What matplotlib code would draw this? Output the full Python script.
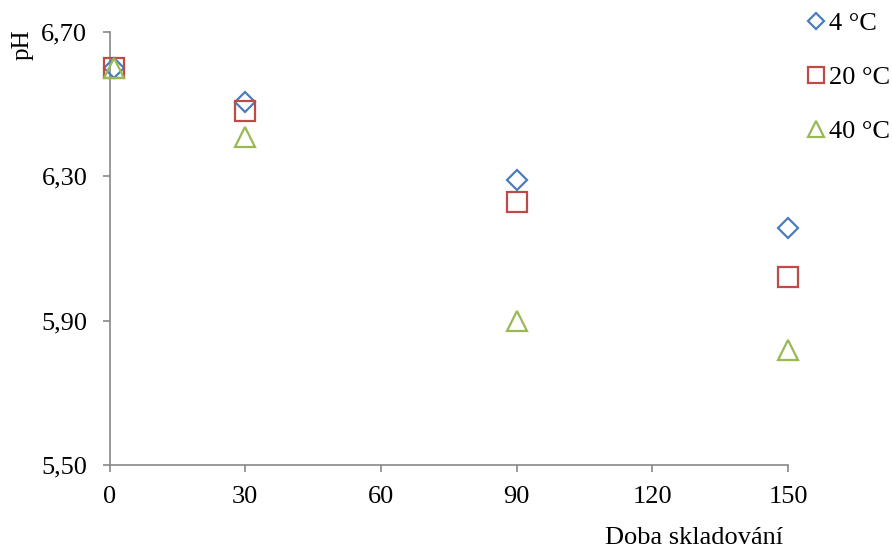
import matplotlib
matplotlib.use("Agg")
import matplotlib.pyplot as plt
from matplotlib.ticker import FuncFormatter

days = [1, 30, 90, 150]
ph_4 = [6.60, 6.505, 6.29, 6.158]
ph_20 = [6.60, 6.48, 6.23, 6.02]
ph_40 = [6.60, 6.41, 5.90, 5.82]
labels = ["4 °C", "20 °C", "40 °C"]
x_ticks = [0, 30, 60, 90, 120, 150]
y_ticks = [5.50, 5.90, 6.30, 6.70]

plt.rcParams['font.family'] = ['Liberation Serif', 'DejaVu Serif']

fig = plt.figure(figsize=(8.92, 5.49), dpi=100)
ax = fig.add_axes([109.5/892, 1-465/549, (788-109.5)/892, (465-32)/549])

blue = '#4A7EBB'
red = '#BE4B48'
green = '#98B954'

ax.plot(days, ph_4, linestyle='none', marker='D', ms=10.0, mfc='none', mec=blue, mew=1.6, label=labels[0], clip_on=False, zorder=3)
ax.plot(days, ph_20, linestyle='none', marker='s', ms=14.0, mfc='none', mec=red, mew=1.6, label=labels[1], clip_on=False, zorder=3)
ax.plot(days, ph_40, linestyle='none', marker='^', ms=14.0, mfc='none', mec=green, mew=1.6, label=labels[2], clip_on=False, zorder=3)

ax.set_xlim(0, 150)
ax.set_ylim(5.50, 6.70)
ax.set_xticks(x_ticks)
ax.set_yticks(y_ticks)
ax.yaxis.set_major_formatter(FuncFormatter(lambda v, p: f"{v:.2f}".replace('.', ',')))

for s in ['top', 'right']:
    ax.spines[s].set_visible(False)
for s in ['left', 'bottom']:
    ax.spines[s].set_color('#888888')
    ax.spines[s].set_linewidth(1.2)
ax.tick_params(axis='both', direction='out', length=5, width=1.2, color='#888888', labelsize=19, labelcolor='black')
ax.tick_params(axis='y', pad=11)
ax.tick_params(axis='x', pad=10)

fig.text(783/892, 1-538/549, "Doba skladování", ha='right', va='center', fontsize=19)
fig.text(23/892, 1-45/549, "pH", rotation=90, ha='center', va='center', fontsize=18)

leg = ax.legend(loc='upper left', bbox_to_anchor=(808/892, 1-12/549), bbox_transform=fig.transFigure,
                frameon=False, fontsize=19, markerscale=0.85, handlelength=0.6, handletextpad=0.2,
                labelspacing=1.15, borderpad=0, borderaxespad=0)

fig.savefig('out.png', dpi=100)
